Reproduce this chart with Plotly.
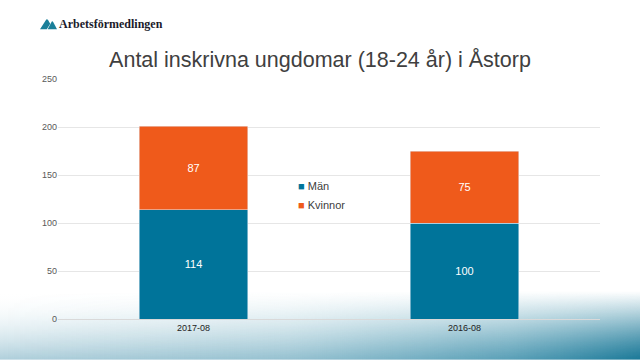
import plotly.graph_objects as go
import base64

categories = ["2017-08", "2016-08"]
man = [114, 100]
kvinnor = [87, 75]
title = "Antal inskrivna ungdomar (18-24 år) i Åstorp"
y_ticks = [0, 50, 100, 150, 200, 250]

TEAL = "#00749A"
ORANGE = "#EF5A1B"

fig = go.Figure()
fig.add_trace(go.Bar(x=categories, y=man, name="Män", marker_color=TEAL, showlegend=False,
                     text=man, textposition="inside", insidetextanchor="middle",
                     textfont=dict(color="white", size=11, family="Liberation Sans")))
fig.add_trace(go.Bar(x=categories, y=kvinnor, name="Kvinnor", marker_color=ORANGE, showlegend=False,
                     text=kvinnor, textposition="inside", insidetextanchor="middle",
                     textfont=dict(color="white", size=11, family="Liberation Sans")))
# legend entries: small square swatch drawn as a coloured character next to the name
for nm, col in (("Män", TEAL), ("Kvinnor", ORANGE)):
    fig.add_trace(go.Scatter(x=[None], y=[None], mode="markers",
                             name=f"<span style='color:{col};font-size:11px'>■</span> {nm}",
                             marker=dict(symbol="square", size=1, color="rgba(0,0,0,0)")))

grad_svg = """<svg xmlns='http://www.w3.org/2000/svg' width='640' height='80' viewBox='0 0 640 80' preserveAspectRatio='none'>
<defs>
<linearGradient id='v' x1='0' y1='0' x2='0' y2='1'>
<stop offset='0' stop-color='#ffffff' stop-opacity='0'/>
<stop offset='0.35' stop-color='#eaf3f6' stop-opacity='0.5'/>
<stop offset='1' stop-color='#afcfdb' stop-opacity='1'/>
</linearGradient>
<linearGradient id='h' x1='0' y1='0' x2='1' y2='0'>
<stop offset='0' stop-color='#2a87a4' stop-opacity='0'/>
<stop offset='0.45' stop-color='#2a87a4' stop-opacity='0.2'/>
<stop offset='0.8' stop-color='#1f7f9e' stop-opacity='0.6'/>
<stop offset='1' stop-color='#137494' stop-opacity='0.95'/>
</linearGradient>
<linearGradient id='m' x1='0' y1='0' x2='0' y2='1'>
<stop offset='0' stop-color='white' stop-opacity='0'/>
<stop offset='0.5' stop-color='white' stop-opacity='0.5'/>
<stop offset='1' stop-color='white' stop-opacity='1'/>
</linearGradient>
<mask id='mk'><rect width='640' height='80' fill='url(#m)'/></mask>
</defs>
<rect width='640' height='80' fill='url(#v)'/>
<rect width='640' height='80' fill='url(#h)' mask='url(#mk)'/>
</svg>"""
grad_uri = "data:image/svg+xml;base64," + base64.b64encode(grad_svg.encode()).decode()

logo_svg = """<svg xmlns='http://www.w3.org/2000/svg' width='20' height='14' viewBox='0 0 20 14'>
<path d='M0 13 L7 3 Q8 1.5 9.5 3 L12 7 L8 13 Z' fill='#1a7f99'/>
<path d='M9 13 L13.5 5 Q14.5 3.5 15.5 5 L20 13 Z' fill='#1a7f99'/>
</svg>"""
logo_uri = "data:image/svg+xml;base64," + base64.b64encode(logo_svg.encode()).decode()

PH = 241.0
PW = 542.0

fig.update_layout(
    width=640, height=360,
    barmode="stack", bargap=0.6,
    paper_bgcolor="white", plot_bgcolor="rgba(0,0,0,0)",
    margin=dict(l=58, r=40, t=79, b=41),
    title=dict(text=title, x=0.5, xanchor="center", y=0.835, yanchor="middle",
               font=dict(family="Liberation Sans", size=21.5, color="#404040")),
    legend=dict(x=(258 - 58) / PW, y=(320 - 172) / PH, xanchor="left", yanchor="top",
                traceorder="normal",
                font=dict(family="Liberation Sans", size=11, color="#404040"),
                bgcolor="rgba(0,0,0,0)", itemwidth=30, tracegroupgap=4),
    xaxis=dict(type="category", tickfont=dict(family="Liberation Sans", size=9, color="#222222"),
               showline=True, linecolor="#d9d9d9", linewidth=1, ticks=""),
    yaxis=dict(range=[0, 250], tickvals=y_ticks, showgrid=True, gridcolor="#e6e6e6",
               zeroline=False, ticks="", ticklen=0,
               tickfont=dict(family="Liberation Sans", size=9, color="#595959")),
    images=[
        dict(source=grad_uri, xref="paper", yref="paper", x=-58 / PW, y=(320 - 292) / PH,
             sizex=640 / PW, sizey=69 / PH, sizing="stretch", xanchor="left",
             yanchor="top", layer="below"),
        dict(source=logo_uri, xref="paper", yref="paper", x=(40 - 58) / PW, y=(320 - 17) / PH,
             sizex=17 / PW, sizey=13 / PH, sizing="stretch", xanchor="left",
             yanchor="top", layer="above"),
    ],
    annotations=[
        dict(text="<b>Arbetsförmedlingen</b>", xref="paper", yref="paper",
             x=(57 - 58) / PW, y=(320 - 24) / PH, xanchor="left", yanchor="middle",
             showarrow=False,
             font=dict(family="Liberation Serif", size=12, color="#1b1b2b"))
    ],
)

fig.write_html("out.html")
